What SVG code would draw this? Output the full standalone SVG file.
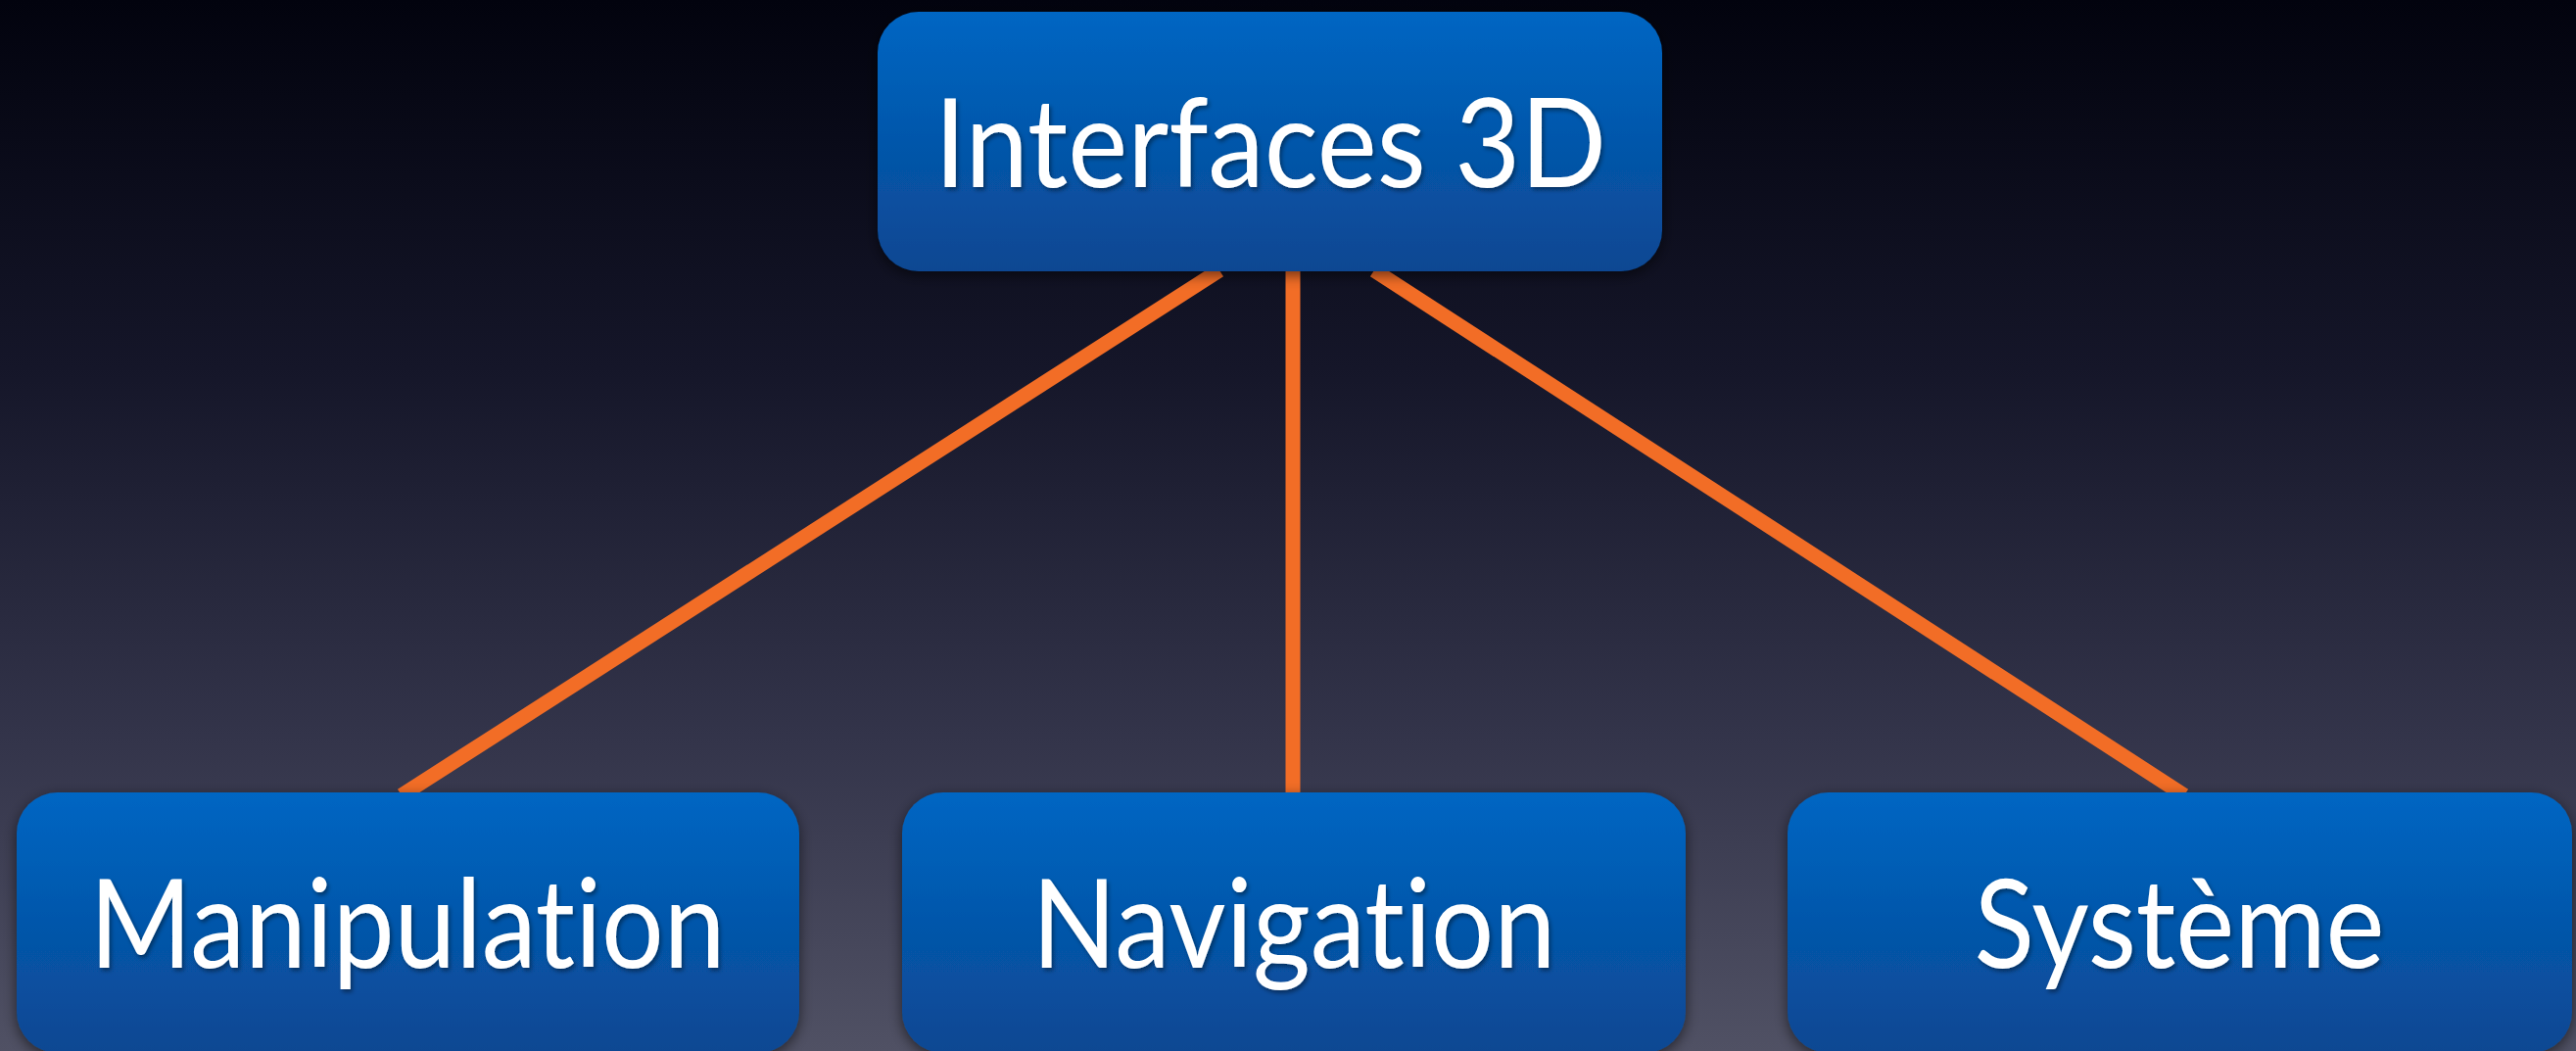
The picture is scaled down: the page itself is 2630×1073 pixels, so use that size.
<svg xmlns="http://www.w3.org/2000/svg" width="2630" height="1073" viewBox="0 0 2630 1073">
  <defs>
    <linearGradient id="bg" x1="0" y1="0" x2="0" y2="1">
      <stop offset="0" stop-color="#02030e"/>
      <stop offset="0.35" stop-color="#151629"/>
      <stop offset="0.7" stop-color="#33344a"/>
      <stop offset="1" stop-color="#505164"/>
    </linearGradient>
    <linearGradient id="box" x1="0" y1="0" x2="0" y2="1">
      <stop offset="0" stop-color="#0066c3"/>
      <stop offset="1" stop-color="#0a4792"/>
    </linearGradient>
    <filter id="shadow" x="-10%" y="-15%" width="120%" height="130%">
      <feDropShadow dx="0" dy="4" stdDeviation="7" flood-color="#000" flood-opacity="0.55"/>
    </filter>
    <filter id="tshadow" x="-5%" y="-20%" width="110%" height="140%">
      <feDropShadow dx="2" dy="3" stdDeviation="2" flood-color="#000" flood-opacity="0.4"/>
    </filter>
  </defs>
  <style>
    .node rect { fill: url(#box); filter: url(#shadow); }
    .node text { fill: #ffffff; font-family: "Lato", "Noto Sans", "Liberation Sans", sans-serif; font-size: 126px; text-anchor: middle; filter: url(#tshadow); font-variant-ligatures: none; font-feature-settings: "liga" 0, "clig" 0, "dlig" 0; }
    .edge { stroke: #f26d26; stroke-width: 15; fill: none; }
  </style>
  <rect x="0" y="0" width="2630" height="1073" fill="url(#bg)"/>
  <g id="connectors">
    <line class="edge" x1="1245" y1="276" x2="410" y2="812"/>
    <line class="edge" x1="1320" y1="276" x2="1320" y2="812"/>
    <line class="edge" x1="1403" y1="276" x2="2230" y2="812"/>
  </g>
  <g id="node-interfaces" class="node">
    <rect x="896" y="12" width="801" height="265" rx="42" ry="42"/>
    <text x="1297" y="191" textLength="686" lengthAdjust="spacingAndGlyphs">Interfaces 3D</text>
  </g>
  <g id="node-manipulation" class="node">
    <rect x="17" y="809" width="799" height="266" rx="42" ry="42"/>
    <text x="416" y="988" textLength="649" lengthAdjust="spacingAndGlyphs">Manipulation</text>
  </g>
  <g id="node-navigation" class="node">
    <rect x="921" y="809" width="800" height="266" rx="42" ry="42"/>
    <text x="1321" y="988" textLength="535" lengthAdjust="spacingAndGlyphs">Navigation</text>
  </g>
  <g id="node-systeme" class="node">
    <rect x="1825" y="809" width="801" height="266" rx="42" ry="42"/>
    <text x="2225" y="988" textLength="419" lengthAdjust="spacingAndGlyphs">Système</text>
  </g>
</svg>
